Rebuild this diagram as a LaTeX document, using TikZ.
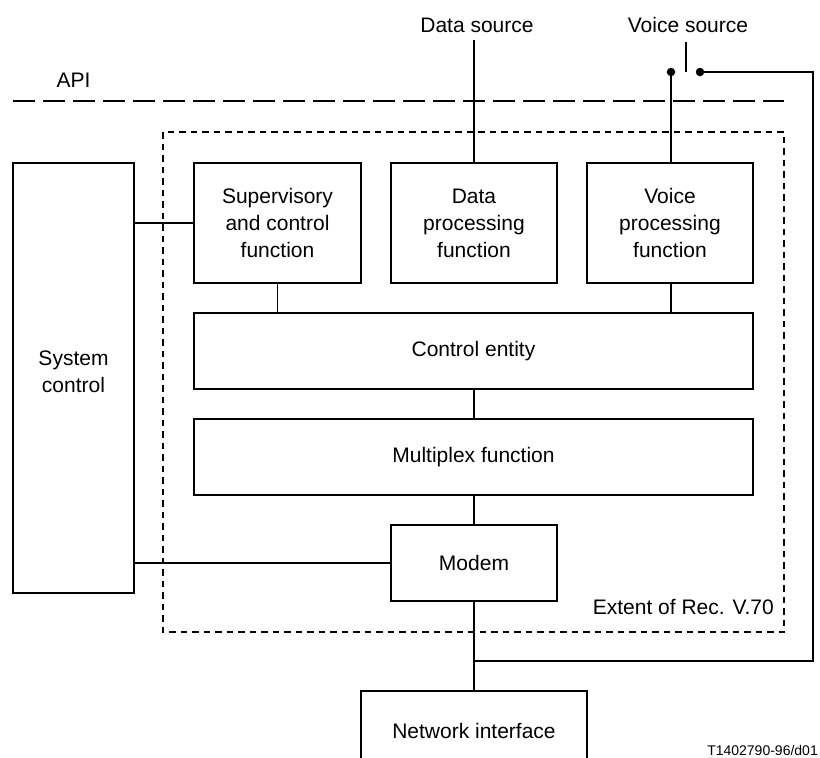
\documentclass[tikz,border=0pt]{standalone}
\usepackage{fontspec}
\setmainfont{Liberation Sans}
\begin{document}
\begin{tikzpicture}[x=1pt,y=-1pt,
  box/.style={draw, line width=1.4pt, inner sep=0pt, align=center, font=\fontsize{21}{27}\selectfont},
  conn/.style={line width=1.8pt},
  lbl/.style={font=\fontsize{21}{27}\selectfont, inner sep=0pt},
  dotnode/.style={circle, fill, inner sep=0pt, minimum size=8.5pt},
  apiline/.style={line width=2.2pt, dash pattern=on 22pt off 8pt},
  extentline/.style={line width=1.8pt, dash pattern=on 6.5pt off 5pt}]
\useasboundingbox (0,0) rectangle (820,758);
\clip (0,0) rectangle (820,758);
\fill[white] (0,0) rectangle (820,758);

% boxes
\node[box, minimum width=121pt, minimum height=430pt] (sys) at (73.5,378) {};
\node[lbl, align=center] (systxt) at (73.5,372) {System\\control};
\node[box, minimum width=167pt, minimum height=120pt] (sup) at (277.5,223) {Supervisory\\and control\\function};
\node[box, minimum width=166pt, minimum height=120pt] (data) at (474,223) {Data\\processing\\function};
\node[box, minimum width=166pt, minimum height=120pt] (voice) at (670,223) {Voice\\processing\\function};
\node[box, minimum width=559pt, minimum height=76pt] (ctrl) at (473.5,351) {Control entity};
\node[box, minimum width=559pt, minimum height=76pt] (mux) at (473.5,457) {Multiplex function};
\node[box, minimum width=166pt, minimum height=76pt] (modem) at (474,563) {Modem};
\node[box, minimum width=226pt, minimum height=80pt] (net) at (474,731) {Network interface};

% API line and extent box
\coordinate (apiL) at (13,101);
\coordinate (apiR) at (784,101);
\draw[apiline] (apiL) -- (apiR);
\coordinate (extTL) at (163,132);
\coordinate (extBR) at (784,632);
\draw[extentline] (extTL) rectangle (extBR);

% labels
\node[lbl] (api) at (73.5,80) {API};
\node[lbl] (dsrc) at (477,25) {Data source};
\node[lbl] (vsrc) at (688,25) {Voice source};
\node[lbl, anchor=east] (extent) at (774,607) {Extent of Rec. V.70};
\node[inner sep=0pt, anchor=base east, font=\fontsize{14}{16}\selectfont] (tcode) at (818,755) {T1402790-96/d01};

% data source line
\coordinate (dtop) at (474,40);
\draw[conn] (dtop) -- (dtop |- data.north);

% voice switch
\coordinate (sw1) at (686,42);
\coordinate (sw2) at (686,72);
\draw[conn] (sw1) -- (sw2);
\node[dotnode] (d1) at (671,72) {};
\node[dotnode] (d2) at (700,72) {};
\draw[conn] (d1.center) -- (d1.center |- voice.north);
\coordinate (c1) at (813,72);
\coordinate (c2) at (813,661);
\coordinate (jn) at (474,661);
\draw[line width=1.4pt] (d2.center) -- (c1) -- (c2) -- (jn);

% connectors
\draw[conn] (sys.east |- sup.west) -- (sup.west);
\draw[conn] (sys.east |- modem.west) -- (modem.west);
\draw[conn] (sup.south) -- (sup.south |- ctrl.north);
\draw[conn] (d1.center |- voice.south) -- (d1.center |- ctrl.north);
\draw[conn] (modem.north |- ctrl.south) -- (modem.north |- mux.north);
\draw[conn] (modem.north |- mux.south) -- (modem.north);
\draw[conn] (modem.south) -- (net.north);
\end{tikzpicture}
\end{document}
